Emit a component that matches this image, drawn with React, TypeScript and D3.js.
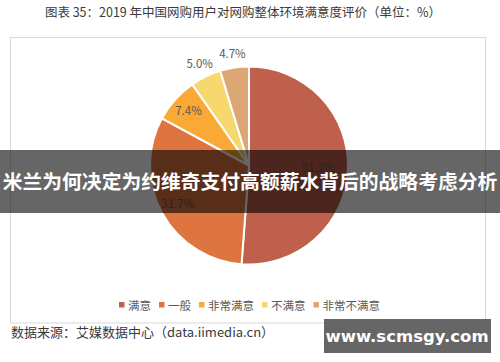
import React from "react";
import * as d3 from "d3";

const categories = ["满意", "一般", "非常满意", "不满意", "非常不满意"];
const values = [51.2, 31.7, 7.4, 5.0, 4.7];
const colors = ["#BF604D", "#DE7440", "#F9A934", "#F6D86F", "#DAA775"];
const titleText = "图表 35：2019 年中国网购用户对网购整体环境满意度评价（单位：%）";
const sourceText = "数据来源：艾媒数据中心（data.iimedia.cn）";
const bannerText = "米兰为何决定为约维奇支付高额薪水背后的战略考虑分析";
const watermarkText = "www.scmsgy.com";

const W = 500;
const H = 362;
const FONT = "'Noto Sans CJK SC', 'Noto Sans', sans-serif";

export default function App() {
  const cx = 249;
  const cy = 165.5;
  const R = 99;
  const pie = d3
    .pie<number>()
    .sort(null)
    .startAngle(0)
    .endAngle(2 * Math.PI)
    .value((d) => d);
  const arcs = pie(values);
  const arcGen = d3.arc<d3.PieArcDatum<number>>().innerRadius(0).outerRadius(R);

  const charW = 11.5;
  let lx = 119;
  const legendItems = categories.map((c, i) => {
    const item = { c, i, x: lx };
    lx += 9 + c.length * charW + 8;
    return item;
  });

  return (
    <svg
      width={W}
      height={H}
      style={{ position: "absolute", left: 0, top: 0, background: "#fff" }}
      fontFamily={FONT}
    >
      <rect x={0} y={0} width={W} height={H} fill="#fff" />
      <text x={243} y={17} textAnchor="middle" fontSize={12.5} fill="#3a3a3a">
        {titleText}
      </text>
      <rect x={10.5} y={37.5} width={475} height={285.5} fill="#fff" stroke="#d9d9d9" strokeWidth={1} />
      <g transform={`translate(${cx},${cy})`}>
        {arcs.map((a, i) => (
          <path key={i} d={arcGen(a) || ""} fill={colors[i]} stroke="#fff" strokeWidth={2} strokeLinejoin="round" />
        ))}
        {arcs.map((a, i) => {
          const mid = (a.startAngle + a.endAngle) / 2;
          const small = values[i] < 6;
          const r = small ? R * 1.14 : i === 0 ? R * 0.7 : R * 0.82;
          const x = Math.sin(mid) * r;
          const y = -Math.cos(mid) * r;
          return (
            <text key={"l" + i} x={x} y={y + 4} textAnchor="middle" fontSize={11.5} fill="#595959">
              {values[i].toFixed(1) + "%"}
            </text>
          );
        })}
      </g>
      <g>
        {legendItems.map((it) => (
          <g key={it.c}>
            <rect x={it.x} y={302} width={5.5} height={5.5} fill={colors[it.i]} />
            <text x={it.x + 9} y={309.5} fontSize={11.5} fill="#595959">
              {it.c}
            </text>
          </g>
        ))}
      </g>
      <text x={11} y={337} fontSize={13} fill="#3a3a3a">
        {sourceText}
      </text>
      <rect x={0} y={150} width={W} height={63} fill="rgba(0,0,0,0.6)" />
      <text x={250} y={189} textAnchor="middle" fontSize={19.8} fontWeight="bold" fill="#fff">
        {bannerText}
      </text>
      <rect x={324} y={319} width={167} height={34} fill="#666" />
      <text x={407} y={342} textAnchor="middle" fontSize={16.5} fontWeight="bold" fill="#fff" fontFamily="'DejaVu Sans', sans-serif">
        {watermarkText}
      </text>
    </svg>
  );
}
